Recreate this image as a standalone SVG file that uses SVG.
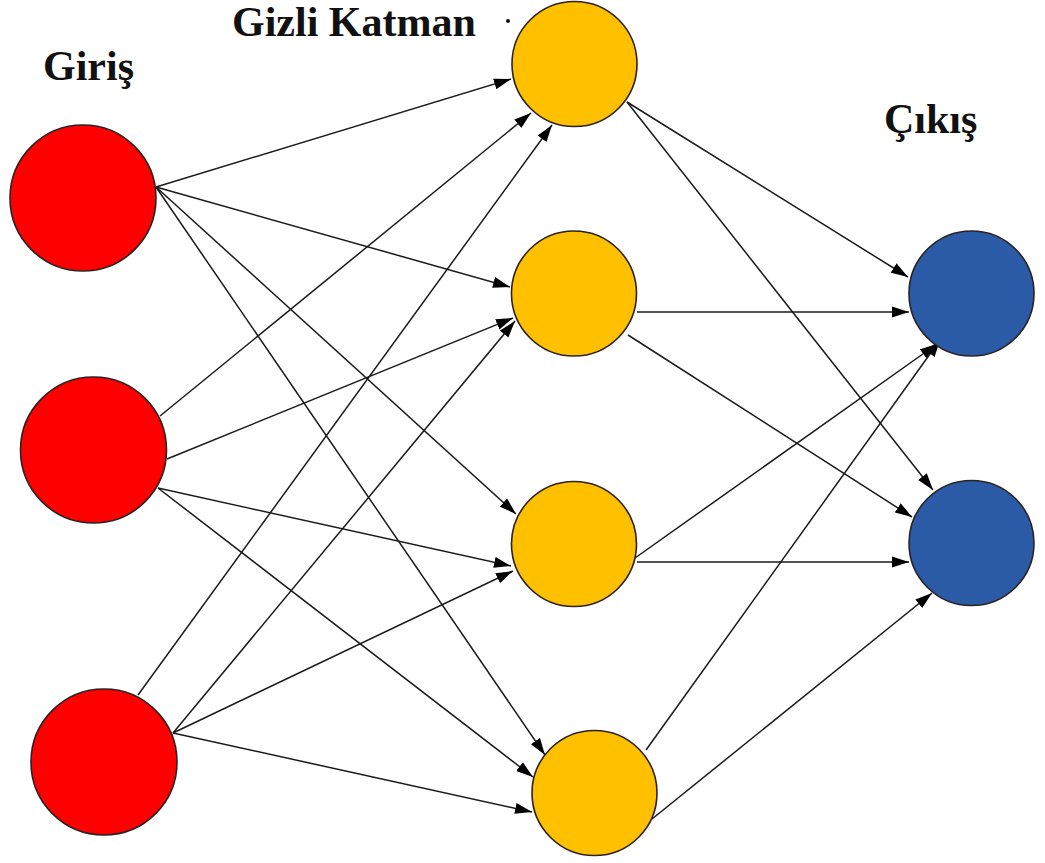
<svg xmlns="http://www.w3.org/2000/svg" width="1045" height="863" viewBox="0 0 1045 863">
  <style>
    .lbl { font-family: "Liberation Serif", "Times New Roman", serif; font-weight: bold; font-size: 42px; fill: #111; }
    .node { stroke: #2a2222; stroke-width: 1.6; }
    .in { fill: #ff0000; }
    .hid { fill: #ffc000; }
    .out { fill: #2b5ba7; }
    .edge { stroke: #1a1a1a; stroke-width: 1.5; fill: none; marker-end: url(#arrow); }
  </style>
  <defs>
    <marker id="arrow" markerUnits="userSpaceOnUse" markerWidth="18" markerHeight="12" refX="17" refY="6" orient="auto">
      <path d="M0,0.5 L17,6 L0,11.5 Z" fill="#000"/>
    </marker>
  </defs>
  <rect width="1045" height="863" fill="#ffffff"/>

  <!-- layer titles -->
  <g id="titles">
    <text class="lbl" x="43" y="80">Giriş</text>
    <text class="lbl" x="232" y="36">Gizli Katman</text>
    <circle cx="508" cy="21" r="2" fill="#111"/>
    <text class="lbl" x="884" y="133">Çıkış</text>
  </g>

  <!-- connectors -->
  <g id="connectors">
    <!-- input 1 -->
    <line class="edge" x1="156" y1="187" x2="511" y2="79"/>
    <line class="edge" x1="156" y1="187" x2="510" y2="287"/>
    <line class="edge" x1="156" y1="187" x2="516" y2="514"/>
    <line class="edge" x1="156" y1="187" x2="545" y2="755"/>
    <!-- input 2 -->
    <line class="edge" x1="160" y1="416" x2="531" y2="113"/>
    <line class="edge" x1="167" y1="459" x2="513" y2="318"/>
    <line class="edge" x1="158" y1="488" x2="511" y2="566"/>
    <line class="edge" x1="158" y1="488" x2="533" y2="777"/>
    <!-- input 3 -->
    <line class="edge" x1="138" y1="695" x2="552" y2="125"/>
    <line class="edge" x1="173" y1="733" x2="515" y2="321"/>
    <line class="edge" x1="173" y1="733" x2="513" y2="571"/>
    <line class="edge" x1="173" y1="733" x2="532" y2="812"/>
    <!-- hidden 1 -->
    <line class="edge" x1="627" y1="102" x2="908" y2="277"/>
    <line class="edge" x1="627" y1="102" x2="933" y2="490"/>
    <!-- hidden 2 -->
    <line class="edge" x1="637" y1="312" x2="909" y2="312"/>
    <line class="edge" x1="628" y1="335" x2="912" y2="517"/>
    <!-- hidden 3 -->
    <line class="edge" x1="635" y1="558" x2="937" y2="344"/>
    <line class="edge" x1="637" y1="562" x2="909" y2="562"/>
    <!-- hidden 4 -->
    <line class="edge" x1="646" y1="750" x2="940" y2="340"/>
    <line class="edge" x1="652" y1="819" x2="932" y2="593"/>
  </g>

  <!-- input layer -->
  <g id="input-1"><circle class="node in" cx="83" cy="198" r="73"/></g>
  <g id="input-2"><circle class="node in" cx="93.5" cy="450" r="73"/></g>
  <g id="input-3"><circle class="node in" cx="104" cy="762" r="73"/></g>

  <!-- hidden layer -->
  <g id="hidden-1"><circle class="node hid" cx="574.5" cy="64" r="62.5"/></g>
  <g id="hidden-2"><circle class="node hid" cx="574" cy="293.5" r="62.5"/></g>
  <g id="hidden-3"><circle class="node hid" cx="574" cy="544" r="62.5"/></g>
  <g id="hidden-4"><circle class="node hid" cx="594.5" cy="793" r="62.5"/></g>

  <!-- output layer -->
  <g id="output-1"><circle class="node out" cx="971.5" cy="293.5" r="62.5"/></g>
  <g id="output-2"><circle class="node out" cx="971.5" cy="543" r="62.5"/></g>
</svg>
